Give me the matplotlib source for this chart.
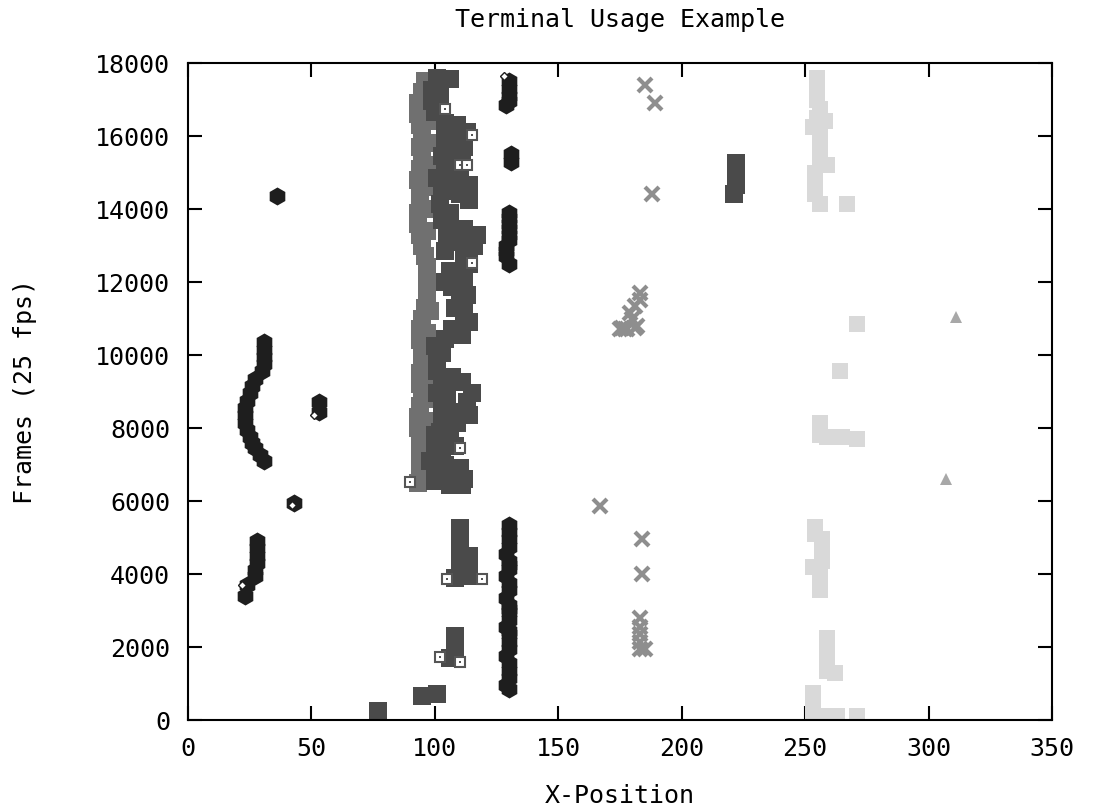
import matplotlib
matplotlib.use("Agg")
from matplotlib import pyplot as plt

# --- data (x position, frame) ---
# near-black diamonds
black_x = [31, 31, 31, 31, 30,
           27, 26, 25, 24, 23, 23, 23, 24, 25, 26, 27, 29, 31,
           28, 28, 28, 28, 27, 27, 24, 23,
           36, 43, 53, 53,
           130, 130, 130, 130, 129,
           131, 131,
           130, 130, 130, 130, 130, 130, 129, 129, 129, 130,
           130, 130, 130, 130, 129, 130, 130, 129, 130, 130, 129, 130, 130, 130, 129, 130, 130, 130,
           129, 130, 130, 130, 129, 130, 130, 130, 130]
black_y = [10350, 10150, 9950, 9750, 9550,
           9350, 9150, 8950, 8750, 8550, 8350, 8150, 7950, 7750, 7600, 7450, 7250, 7100,
           4900, 4700, 4500, 4300, 4100, 3950, 3700, 3400,
           14350, 5950, 8700, 8450,
           17500, 17300, 17100, 16950, 16850,
           15500, 15300,
           13900, 13750, 13600, 13450, 13300, 13150, 13000, 12850, 12700, 12500,
           5350, 5150, 4950, 4750, 4550, 4350, 4150, 3950, 3750, 3550, 3350, 3150, 2950, 2750, 2550, 2350, 2150, 1950,
           1750, 1550, 1350, 1150, 950, 850, 3050, 4250, 2450]

# medium gray squares (left half of the big column)
mid_x = [96, 95, 93, 93, 94, 95, 94, 95, 94, 93, 94, 94, 93, 93, 94, 95, 96, 97, 97,
         97, 96, 95, 94, 94, 95, 95, 94, 94, 95, 94, 93, 93, 94, 94, 94, 94, 93,
         98, 97, 97, 98, 97, 98, 97, 97, 98, 97, 96, 97, 98, 97, 97, 96]
mid_y = [17500, 17200, 16900, 16600, 16300, 16000, 15700, 15400, 15100, 14800, 14500, 14200, 13900, 13600, 13300, 13000, 12700, 12400, 12100,
         11600, 11300, 11000, 10700, 10400, 10100, 9800, 9500, 9200, 8900, 8600, 8300, 8000, 7700, 7400, 7100, 6800, 6500,
         17000, 16400, 15800, 15200, 14600, 14000, 13400, 11800, 11200, 10600, 10000, 9400, 8800, 8200, 7600, 7000]

# dark gray squares
dark_x = [101, 106, 99, 99, 100, 102, 101,
          104, 109, 113, 104, 109, 104, 112, 103, 111, 104, 109,
          101, 108, 114, 103, 110, 114, 102, 106, 103, 106, 112, 117, 105, 110, 116, 104, 112, 114, 106, 112,
          112, 110, 112, 112, 114, 107, 111, 104, 100, 103, 101, 101, 107, 111, 103, 101, 105, 113, 103, 108,
          114, 103, 106, 100, 104, 108, 100, 103, 98, 104, 110, 100, 106, 112, 100, 106, 111,
          108, 110, 112, 104, 107, 101, 105, 109, 115, 102, 113, 108,
          110, 110, 110, 110, 114, 110, 114, 110, 114, 108,
          108, 108, 108, 106,
          77, 95, 101,
          222, 222, 222, 221]
dark_y = [17600, 17550, 17250, 16950, 16650, 17100, 16800,
          16350, 16300, 16100, 16050, 15850, 15750, 15700, 15450, 15400, 15150, 15100,
          14850, 14800, 14650, 14500, 14400, 14250, 14150, 13900, 13700, 13500, 13450, 13300, 13250, 13100, 13000, 12850, 12750, 12500, 12300, 12150,
          11900, 11650, 11400, 11150, 10900, 10700, 10550, 10450, 10250, 10050, 9800, 9550, 9400, 9250, 9200, 8950, 8850, 8700, 8600, 8450,
          8350, 8250, 8000, 7800, 7650, 7500, 7450, 7250, 7100, 7000, 6900, 6800, 6700, 6600, 6550, 6450, 6450,
          15550, 14950, 12450, 12000, 11850, 9950, 9050, 8150, 8950, 7900, 11650, 11300,
          5250, 5000, 4750, 4500, 4500, 4250, 4200, 4000, 3950, 3900,
          2300, 2050, 1850, 1700,
          250, 650, 700,
          15250, 14950, 14650, 14400]

# open squares with a dot
open_x = [104, 115, 110, 113, 115, 110, 90, 105, 119, 102, 110]
open_y = [16750, 16030, 15200, 15200, 12520, 7450, 6520, 3860, 3860, 1730, 1590]

# small open diamonds
odia_x = [51, 42, 128, 22]
odia_y = [8350, 5900, 17650, 3700]

# gray crosses
cross_x = [185, 189, 188, 167, 184, 184,
           175, 177, 178, 181, 180, 179, 181, 183, 183, 176, 182,
           183, 183, 183, 183, 183, 185]
cross_y = [17400, 16900, 14400, 5850, 4950, 4000,
           10700, 10700, 10700, 10750, 11000, 11150, 11350, 11700, 11500, 10750, 10800,
           2800, 2550, 2350, 2150, 1950, 1950]

# light gray column
light_x = [255, 255, 255, 255, 256, 255, 253, 258, 256, 256, 256, 256, 259, 254, 254, 254, 254, 256, 267,
           271, 264, 256, 256, 256, 259, 265, 271,
           254, 254, 257, 257, 257, 257, 253, 256, 256, 256,
           259, 259, 259, 259, 262, 259,
           253, 253, 253, 253, 258, 263, 271]
light_y = [17600, 17400, 17200, 17000, 16750, 16500, 16250, 16400, 16000, 15800, 15600, 15400, 15200, 15000, 14800, 14600, 14400, 14150, 14150,
           10850, 9550, 8150, 7950, 7800, 7750, 7750, 7700,
           5300, 5100, 4950, 4750, 4550, 4350, 4200, 3950, 3750, 3550,
           2250, 2050, 1850, 1600, 1300, 1350,
           750, 550, 350, 150, 100, 100, 100]

# triangles
tri_x = [311, 307]
tri_y = [11050, 6600]

mono = "DejaVu Sans Mono"
plt.rcParams["font.family"] = mono

fig = plt.figure(figsize=(10.94, 8.07), dpi=100)
ax = fig.add_axes([0.1718, 0.1078, 0.7898, 0.8141])

ax.plot(mid_x, mid_y, "s", color="#707070", ms=13, mew=0, ls="none")
ax.plot(dark_x, dark_y, "s", color="#4a4a4a", ms=13, mew=0, ls="none")
ax.plot(black_x, black_y, "h", color="#1e1e1e", ms=13, mew=0, ls="none")
ax.plot(open_x, open_y, "s", mfc="white", mec="#555555", ms=7, mew=1.5, ls="none")
ax.plot(open_x, open_y, "s", color="#555555", ms=1.8, mew=0, ls="none")
ax.plot(odia_x, odia_y, "D", mfc="white", mec="#1e1e1e", ms=4.5, mew=1, ls="none")
ax.plot(cross_x, cross_y, "x", color="#8e8e8e", ms=10, mew=3, ls="none")
ax.plot(light_x, light_y, "s", color="#d9d9d9", ms=12, mew=0, ls="none")
ax.plot(tri_x, tri_y, "^", color="#a8a8a8", ms=9, mew=0, ls="none")

ax.set_xlim(0, 350)
ax.set_ylim(0, 18000)
ax.set_xticks(range(0, 351, 50))
ax.set_yticks(range(0, 18001, 2000))
ax.tick_params(direction="in", length=10, width=1.5, top=True, right=True,
               labelsize=18, colors="black")
ax.tick_params(axis="x", pad=12)
ax.tick_params(axis="y", pad=13)
for s in ax.spines.values():
    s.set_linewidth(1.5)

ax.set_title("Terminal Usage Example", fontsize=18, pad=26)
ax.set_xlabel("X-Position", fontsize=18)
ax.set_ylabel("Frames (25 fps)", fontsize=18)
ax.xaxis.set_label_coords(0.5, -0.097)
ax.yaxis.set_label_coords(-0.175, 0.5)

fig.savefig("out.png", dpi=100)
